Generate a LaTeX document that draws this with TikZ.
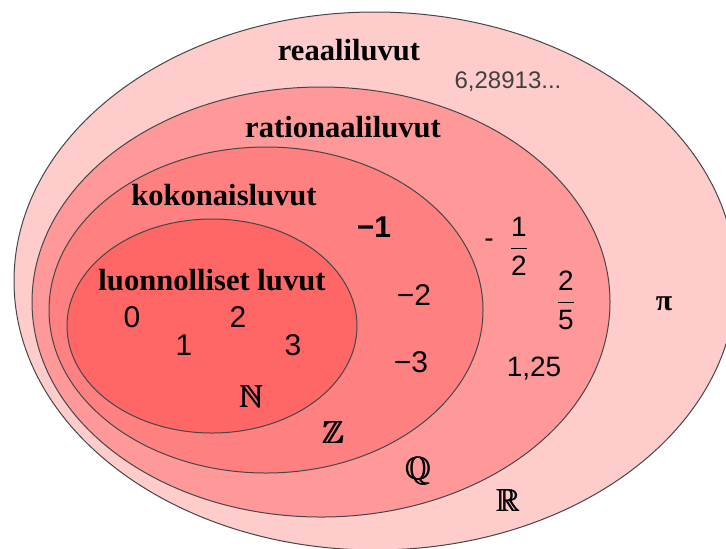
\documentclass[tikz,border=0pt]{standalone}
\usepackage{amsmath}
\usepackage{amssymb}
\usepackage{fontspec}
\setmainfont{Liberation Sans}
\newfontfamily\labelfont{Liberation Serif}

\definecolor{realfill}{RGB}{255,204,204}
\definecolor{ratfill}{RGB}{255,153,153}
\definecolor{intfill}{RGB}{255,128,128}
\definecolor{natfill}{RGB}{255,102,102}
\definecolor{setline}{RGB}{70,70,70}

\newcommand{\heavybb}[1]{\rlap{$\mathbb{#1}$}\kern.35pt\rlap{$\mathbb{#1}$}\kern.35pt$\mathbb{#1}$}

\tikzset{
    setname/.style={font=\labelfont\bfseries\fontsize{15.3}{18}\selectfont, inner sep=0pt},
    num/.style={font=\fontsize{15}{18}\selectfont, inner sep=0pt, text depth=0pt},
    smallnum/.style={num, font=\fontsize{14}{17}\selectfont},
    fracnum/.style={font=\fontsize{14}{17}\selectfont, inner sep=0pt},
    setsym/.style={font=\fontsize{16}{19}\selectfont, inner sep=0pt}
}

\begin{document}
\begin{tikzpicture}[x=0.5pt,y=-0.5pt]
            \useasboundingbox (0,0) rectangle (726,548);
            \clip (0,0) rectangle (726,548);

            \foreach \cx/\cy/\rx/\ry/\col in {375/281/361/269/realfill, 321/302/289/215/ratfill, 266/310/217/163/intfill, 212/326/145/107/natfill}
                \draw[fill=\col,draw=setline,line width=.5pt] (\cx,\cy) ellipse [x radius=\rx, y radius=\ry];

            \node[setname] (reals) at (349,50) {reaaliluvut};
            \node[setname] (rationals) at (343,127) {rationaaliluvut};
            \node[setname] (integers) at (224,195) {kokonaisluvut};
            \node[setname] (naturals) at (212,280) {luonnolliset luvut};

            \foreach \n/\x/\y in {0/132/317, 1/184/345, 2/238/317, 3/293/345}
                \node[num] (nat\n) at (\x,\y) {\n};

            \node[num,font=\bfseries\fontsize{15}{18}\selectfont] (negone) at (374,227) {−1};
            \node[num] (negtwo) at (414,295) {−2};
            \node[num] (negthree) at (411,362) {−3};

            \node[smallnum] (halfsign) at (489,243) {-};
            \node[fracnum] (half) at (519,246) {$\dfrac{\text{1}}{\text{2}}$};
            \node[fracnum] (twofifths) at (566,300) {$\dfrac{\text{2}}{\text{5}}$};
            \node[smallnum] (onequarter) at (534,367) {1,25};
            \node[num,font=\fontsize{12}{14}\selectfont,text=black!75] (decimal) at (508,80) {6,28913...};
            \node[setname,font=\labelfont\bfseries\fontsize{15}{18}\selectfont] (pi) at (664,304) {π};

            \node[setsym] (symN) at (251,396) {\heavybb{N}};
            \node[setsym] (symZ) at (333,432) {\heavybb{Z}};
            \node[setsym] (symQ) at (418,471) {\heavybb{Q}};
            \node[setsym] (symR) at (508,500) {\heavybb{R}};
\end{tikzpicture}
\end{document}
